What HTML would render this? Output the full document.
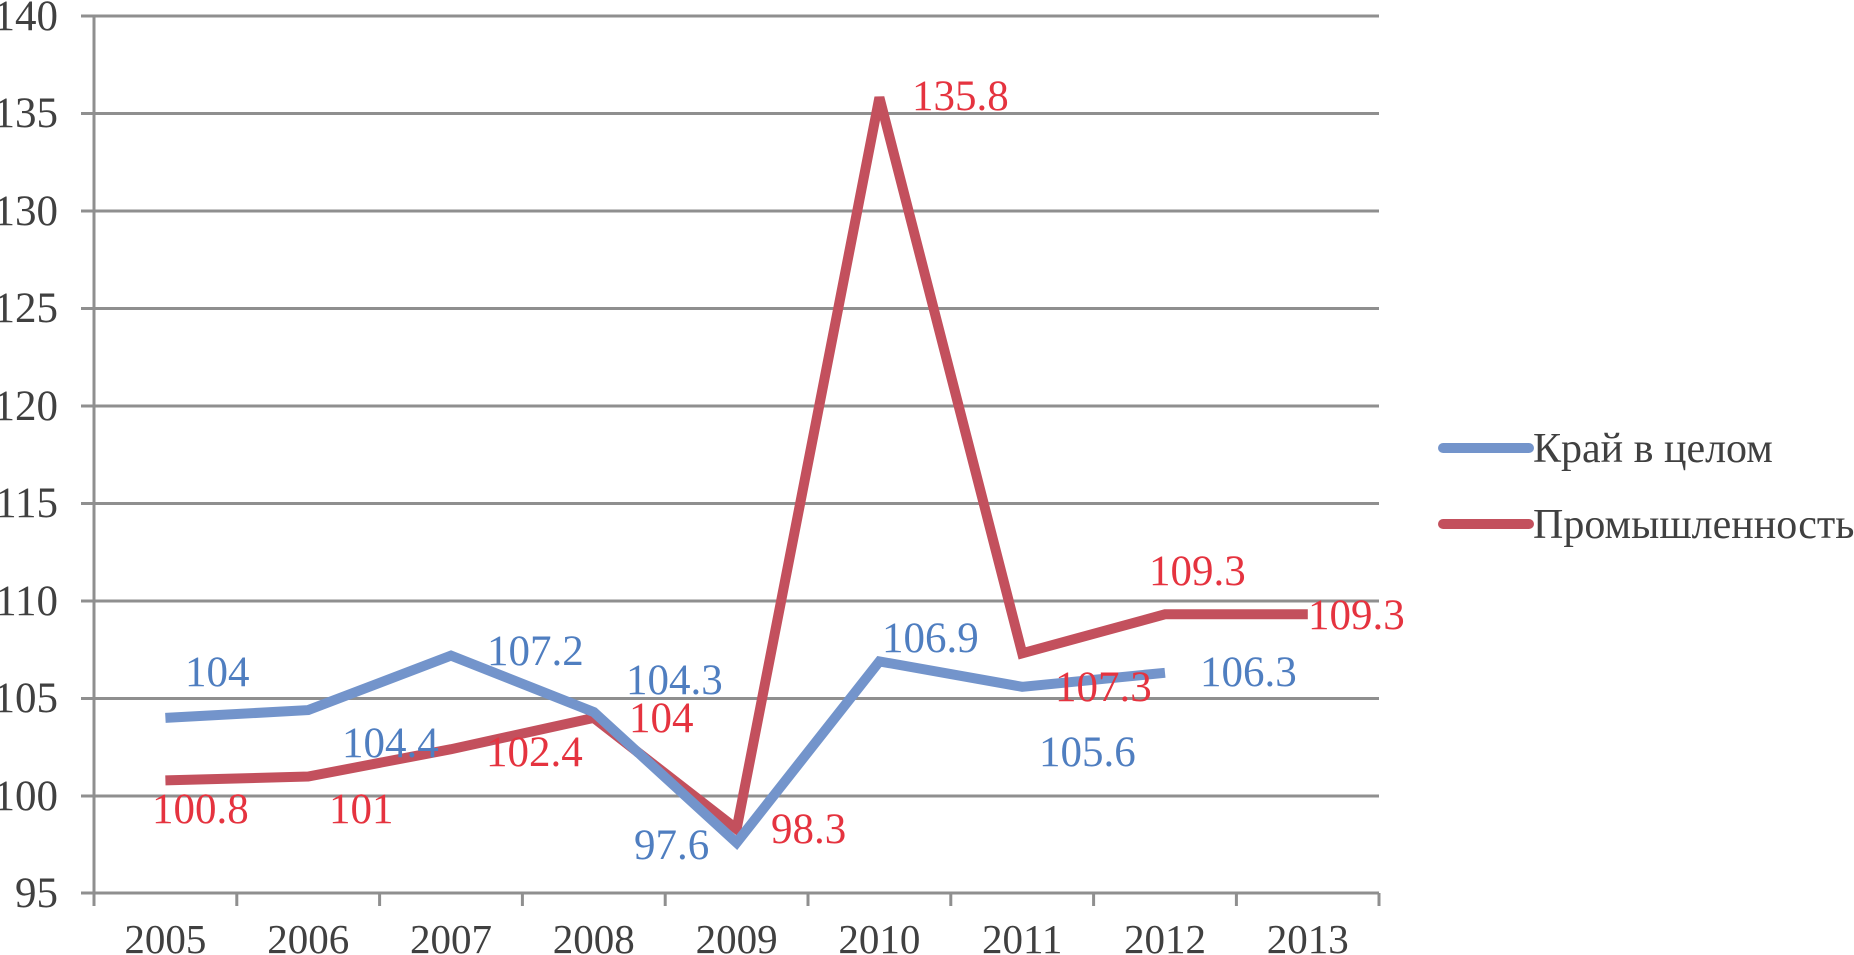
<!DOCTYPE html>
<html><head><meta charset="utf-8"><style>
html,body{margin:0;padding:0;background:#fff;}
svg{display:block;}
text{font-family:"Liberation Serif",serif;}
</style></head><body>
<svg width="1854" height="955" viewBox="0 0 1854 955">
<g stroke="#8f8f8f" stroke-width="3">
<line x1="81" y1="16" x2="1379" y2="16"/>
<line x1="81" y1="113.5" x2="1379" y2="113.5"/>
<line x1="81" y1="211" x2="1379" y2="211"/>
<line x1="81" y1="308.5" x2="1379" y2="308.5"/>
<line x1="81" y1="406" x2="1379" y2="406"/>
<line x1="81" y1="503.5" x2="1379" y2="503.5"/>
<line x1="81" y1="601" x2="1379" y2="601"/>
<line x1="81" y1="698.5" x2="1379" y2="698.5"/>
<line x1="81" y1="796" x2="1379" y2="796"/>
<line x1="81" y1="893" x2="1379" y2="893"/>
<line x1="94" y1="16" x2="94" y2="906"/>
<line x1="236.8" y1="893" x2="236.8" y2="906"/>
<line x1="379.6" y1="893" x2="379.6" y2="906"/>
<line x1="522.4" y1="893" x2="522.4" y2="906"/>
<line x1="665.2" y1="893" x2="665.2" y2="906"/>
<line x1="808" y1="893" x2="808" y2="906"/>
<line x1="950.8" y1="893" x2="950.8" y2="906"/>
<line x1="1093.6" y1="893" x2="1093.6" y2="906"/>
<line x1="1236.4" y1="893" x2="1236.4" y2="906"/>
<line x1="1379" y1="893" x2="1379" y2="906"/>
</g>
<g font-size="43" fill="#404040" text-anchor="end">
<text x="58" y="30">140</text>
<text x="58" y="127">135</text>
<text x="58" y="225">130</text>
<text x="58" y="322">125</text>
<text x="58" y="420">120</text>
<text x="58" y="517">115</text>
<text x="58" y="615">110</text>
<text x="58" y="712">105</text>
<text x="58" y="810">100</text>
<text x="58" y="907">95</text>
</g>
<g font-size="41" fill="#404040" text-anchor="middle">
<text x="165.4" y="953">2005</text>
<text x="308.2" y="953">2006</text>
<text x="451" y="953">2007</text>
<text x="593.8" y="953">2008</text>
<text x="736.6" y="953">2009</text>
<text x="879.4" y="953">2010</text>
<text x="1022.2" y="953">2011</text>
<text x="1165" y="953">2012</text>
<text x="1307.8" y="953">2013</text>
</g>
<polyline fill="none" stroke="#C3505D" stroke-width="10" stroke-linejoin="miter" points="165.4,780.4 308.2,776.5 451,749.2 593.8,717.9 736.6,829 879.4,97.5 1022.2,653.3 1165,614.3 1307.8,614.3"/>
<polyline fill="none" stroke="#7394CB" stroke-width="10" stroke-linejoin="miter" points="165.4,717.9 308.2,710.1 451,655.6 593.8,712.1 736.6,842.7 879.4,661.4 1022.2,686.8 1165,672.8"/>
<g font-size="43" fill="#4F7EC0">
<text x="185" y="686">104</text>
<text x="342" y="757">104.4</text>
<text x="487" y="665">107.2</text>
<text x="626" y="694">104.3</text>
<text x="634" y="859">97.6</text>
<text x="882" y="652">106.9</text>
<text x="1039" y="766">105.6</text>
<text x="1200" y="686">106.3</text>
</g>
<g font-size="43" fill="#E5333F">
<text x="152" y="823">100.8</text>
<text x="329" y="823">101</text>
<text x="486" y="766">102.4</text>
<text x="629" y="732">104</text>
<text x="771" y="843">98.3</text>
<text x="912" y="110">135.8</text>
<text x="1055" y="701">107.3</text>
<text x="1149" y="585">109.3</text>
<text x="1308" y="629">109.3</text>
</g>
<line x1="1443" y1="448" x2="1529" y2="448" stroke="#7394CB" stroke-width="10" stroke-linecap="round"/>
<line x1="1443" y1="524" x2="1529" y2="524" stroke="#C3505D" stroke-width="10" stroke-linecap="round"/>
<g font-size="42" fill="#404040">
<text x="1533" y="462">Край в целом</text>
<text x="1533" y="538">Промышленность</text>
</g>
</svg>
</body></html>
